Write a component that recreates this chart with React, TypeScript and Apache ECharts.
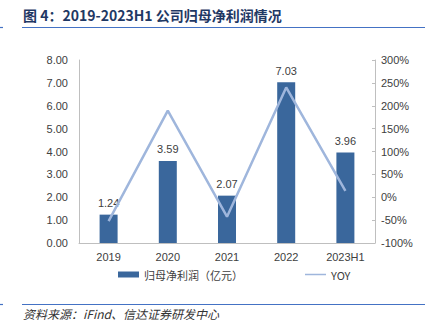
import React, { useEffect, useRef } from "react";
import * as echarts from "echarts";

const categories = ["2019", "2020", "2021", "2022", "2023H1"];
const profit = [1.24, 3.59, 2.07, 7.03, 3.96];
const yoy = [-52, 189.5, -42.5, 240, 14];
const titleText = "图 4：2019-2023H1 公司归母净利润情况";
const sourceText = "资料来源：iFind、信达证券研发中心";
const barName = "归母净利润（亿元）";
const lineName = "YOY";

export default function App() {
  const ref = useRef<HTMLDivElement>(null);
  useEffect(() => {
    const chart = echarts.init(ref.current!, null, { renderer: "svg" });
    const numFont = "'Liberation Sans', 'Noto Sans', sans-serif";
    chart.setOption({
      animation: false,
      backgroundColor: "#ffffff",
      graphic: [
        {
          type: "text",
          left: 23,
          top: 8,
          style: {
            text: titleText,
            fontSize: 14,
            fontWeight: "bold",
            fill: "#1f3864",
            fontFamily: "'Noto Sans CJK SC', sans-serif",
          },
        },
        {
          type: "line",
          shape: { x1: 22, y1: 27.5, x2: 425, y2: 27.5 },
          style: { stroke: "#4472c4", lineWidth: 1.2 },
        },
        {
          type: "line",
          shape: { x1: 0, y1: 27.5, x2: 3, y2: 27.5 },
          style: { stroke: "#4472c4", lineWidth: 1.2 },
        },
        {
          type: "line",
          shape: { x1: 22, y1: 304.5, x2: 425, y2: 304.5 },
          style: { stroke: "#4472c4", lineWidth: 1.2 },
        },
        {
          type: "line",
          shape: { x1: 0, y1: 304.5, x2: 3, y2: 304.5 },
          style: { stroke: "#4472c4", lineWidth: 1.2 },
        },
        {
          type: "text",
          left: 23,
          top: 307,
          style: {
            text: sourceText,
            fontSize: 12,
            fontStyle: "italic",
            fill: "#333333",
            fontFamily: "'Noto Sans CJK SC', sans-serif",
          },
        },
      ],
      legend: {
        top: 264,
        left: 113,
        itemGap: 62,
        itemWidth: 21,
        itemHeight: 6,
        textStyle: {
          fontSize: 11,
          color: "#404040",
          fontFamily: "'Noto Sans CJK SC', sans-serif",
        },
        data: [
          { name: barName, icon: "rect" },
          { name: lineName, icon: "path://M0 0H42V3H0Z" },
        ],
      },
      grid: { left: 79, right: 50, top: 60, bottom: 78 },
      xAxis: {
        type: "category",
        data: categories,
        axisLine: { lineStyle: { color: "#bfbfbf" } },
        axisTick: { show: false },
        axisLabel: {
          color: "#404040",
          fontSize: 11,
          fontFamily: numFont,
          margin: 8,
        },
      },
      yAxis: [
        {
          type: "value",
          min: 0,
          max: 8,
          interval: 1,
          splitLine: { show: false },
          axisLine: { show: true, lineStyle: { color: "#bfbfbf" } },
          axisTick: { show: false },
          axisLabel: {
            color: "#404040",
            fontSize: 11,
            fontFamily: numFont,
            margin: 11,
            formatter: (v: number) => v.toFixed(2),
          },
        },
        {
          type: "value",
          min: -100,
          max: 300,
          interval: 50,
          position: "right",
          splitLine: { show: false },
          axisLine: { show: true, lineStyle: { color: "#bfbfbf" } },
          axisTick: { show: true, inside: true, length: 3, lineStyle: { color: "#bfbfbf" } },
          axisLabel: {
            color: "#404040",
            fontSize: 11,
            fontFamily: numFont,
            margin: 6,
            formatter: (v: number) => v + "%",
          },
        },
      ],
      series: [
        {
          name: barName,
          type: "bar",
          data: profit,
          barWidth: 18,
          itemStyle: { color: "#3a679c" },
          label: {
            show: true,
            position: "top",
            distance: 6,
            color: "#404040",
            fontSize: 11,
            fontFamily: numFont,
            formatter: (p: any) => p.value.toFixed(2),
          },
        },
        {
          name: lineName,
          type: "line",
          yAxisIndex: 1,
          data: yoy,
          symbol: "none",
          lineStyle: { color: "#9fb6dc", width: 2.5 },
          itemStyle: { color: "#9fb6dc" },
        },
      ],
    });
    return () => chart.dispose();
  }, []);
  return (
    <div
      ref={ref}
      style={{ position: "fixed", left: 0, top: 0, width: 425, height: 321 }}
    />
  );
}
